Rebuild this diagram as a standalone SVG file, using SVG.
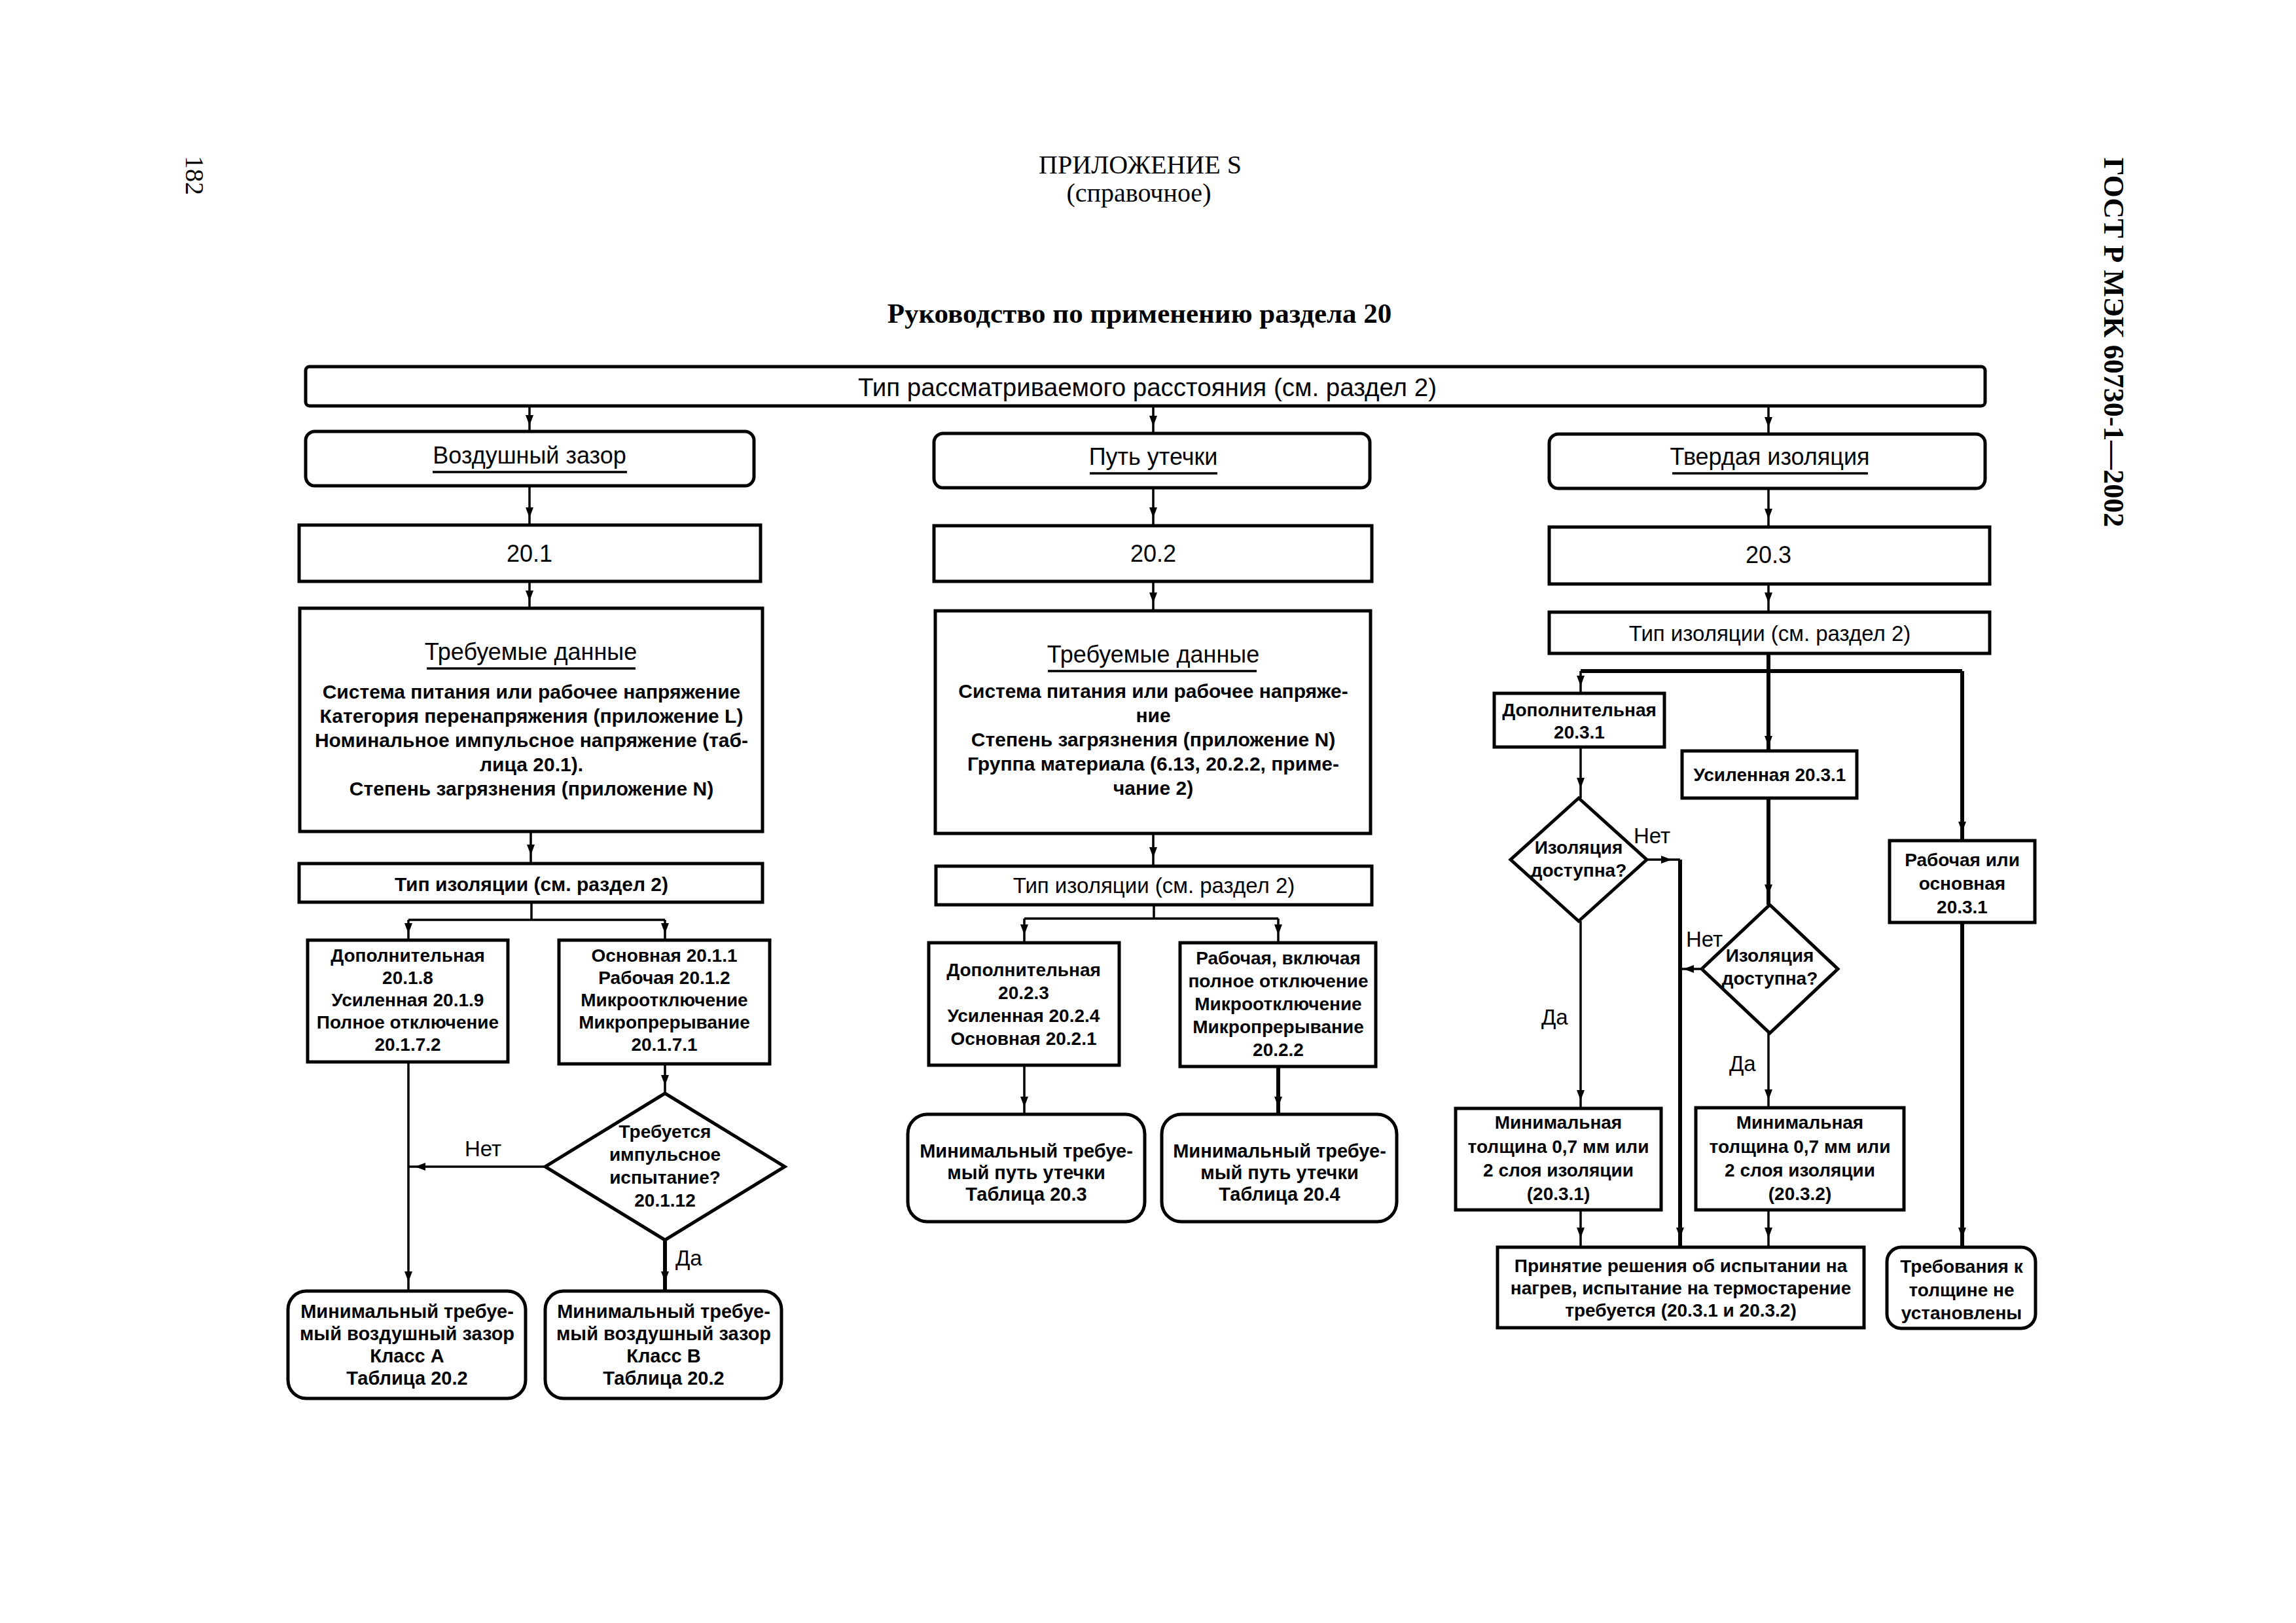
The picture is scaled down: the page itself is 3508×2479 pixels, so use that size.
<svg xmlns="http://www.w3.org/2000/svg" width="3508" height="2479" viewBox="0 0 3508 2479">
<style>
.bg{fill:#fff}
.box{fill:#fff;stroke:#000;stroke-width:5}
.ul{stroke:#000;stroke-width:3.5}
.c{fill:none;stroke:#000;stroke-width:3.5;marker-mid:url(#ah)}
.ck{fill:none;stroke:#000;stroke-width:6;marker-mid:url(#ah)}
.cn{fill:none;stroke:#000;stroke-width:3.5}
.ckn{fill:none;stroke:#000;stroke-width:6}
text{font-family:"Liberation Sans",Arial,sans-serif;fill:#000}
.t{font-size:36px;text-anchor:middle}
.tb{font-size:38.5px;text-anchor:middle}
.b{font-size:30px;font-weight:bold;text-anchor:middle}
.r{font-size:33px;text-anchor:middle}
.s{font-size:28px;font-weight:bold;text-anchor:middle}
.m{font-size:29px;font-weight:bold;text-anchor:middle}
.lb{font-size:33px}
.hd{font-family:"Liberation Serif","Times New Roman",serif;font-size:40px;text-anchor:middle}
.ttl{font-family:"Liberation Serif","Times New Roman",serif;font-size:43px;font-weight:bold;text-anchor:middle}
</style>
<defs>
<marker id="ah" markerUnits="userSpaceOnUse" markerWidth="16" markerHeight="12" viewBox="0 0 16 12" refX="8" refY="6" orient="auto">
<path d="M0,0 L16,6 L0,12 z" fill="#000"/>
</marker>
</defs>
<rect class="bg" x="0" y="0" width="3508" height="2479"/>

<g id="header">
<text class="hd" transform="translate(284,268) rotate(90)">182</text>
<text class="hd" x="1742" y="265">ПРИЛОЖЕНИЕ S</text>
<text class="hd" x="1740" y="308">(справочное)</text>
<text class="ttl" x="1741" y="493">Руководство по применению раздела 20</text>
<text class="ttl" transform="translate(3215,523) rotate(90)" style="font-size:44px">ГОСТ Р МЭК 60730-1—2002</text>
</g>

<g id="connectors">
<path class="c" d="M809,620 L809,642 L809,659"/>
<path class="c" d="M1762,620 L1762,643 L1762,662"/>
<path class="c" d="M2702,622 L2702,645 L2702,663"/>
<path class="c" d="M809,742 L809,783 L809,802"/>
<path class="c" d="M809,888 L809,910 L809,929"/>
<path class="c" d="M811,1270 L811,1298 L811,1319"/>
<path class="cn" d="M812,1378 L812,1405 M624,1405 L1016,1405"/>
<path class="c" d="M624,1405 L624,1418 L624,1436"/>
<path class="c" d="M1016,1405 L1016,1418 L1016,1436"/>
<path class="c" d="M1016,1625 L1016,1650 L1016,1670"/>
<path class="c" d="M833,1782 L642,1782 L624,1782"/>
<path class="c" d="M624,1622 L624,1950 L624,1972"/>
<path class="ck" d="M1016,1894 L1016,1950 L1016,1972"/>
<path class="c" d="M1762,745 L1762,783 L1762,803"/>
<path class="c" d="M1762,888 L1762,913 L1762,933"/>
<path class="c" d="M1762,1273 L1762,1302 L1762,1323"/>
<path class="cn" d="M1763,1382 L1763,1403 M1565,1403 L1953,1403"/>
<path class="c" d="M1565,1403 L1565,1420 L1565,1440"/>
<path class="c" d="M1953,1403 L1953,1420 L1953,1440"/>
<path class="c" d="M1565,1627 L1565,1683 L1565,1702"/>
<path class="ck" d="M1953,1629 L1953,1683 L1953,1702"/>
<path class="c" d="M2702,746 L2702,785 L2702,805"/>
<path class="c" d="M2702,892 L2702,913 L2702,935"/>
<path class="ck" d="M2702,998 L2702,1132 L2702,1147"/>
<path class="ckn" d="M2415,1025 L2998,1025"/>
<path class="c" d="M2415,1025 L2415,1040 L2415,1059"/>
<path class="ck" d="M2998,1025 L2998,1263 L2998,1284"/>
<path class="c" d="M2415,1141 L2415,1196 L2415,1219"/>
<path class="ck" d="M2702,1219 L2702,1359 L2702,1382"/>
<path class="c" d="M2516,1313 L2546,1313 L2567,1313"/>
<path class="ck" d="M2567,1313 L2567,1883 L2567,1905"/>
<path class="c" d="M2600,1480 L2580,1480 L2567,1480"/>
<path class="c" d="M2415,1407 L2415,1673 L2415,1693"/>
<path class="c" d="M2702,1578 L2702,1672 L2702,1692"/>
<path class="c" d="M2415,1848 L2415,1883 L2415,1905"/>
<path class="c" d="M2702,1848 L2702,1883 L2702,1905"/>
<path class="ck" d="M2998,1409 L2998,1883 L2998,1905"/>
</g>

<g id="n-top">
<rect class="box" x="467" y="560" width="2566" height="60" rx="6"/>
<text class="tb" x="1753" y="605">Тип рассматриваемого расстояния (см. раздел 2)</text>
</g>

<g id="n-air">
<rect class="box" x="467" y="659" width="685" height="83" rx="14"/>
<text class="t" x="809" y="708">Воздушный зазор</text>
<line class="ul" x1="661" y1="721" x2="958" y2="721"/>
</g>
<g id="n-creep">
<rect class="box" x="1427" y="662" width="666" height="83" rx="14"/>
<text class="t" x="1762" y="710">Путь утечки</text>
<line class="ul" x1="1665" y1="723" x2="1860" y2="723"/>
</g>
<g id="n-solid">
<rect class="box" x="2367" y="663" width="666" height="83" rx="14"/>
<text class="t" x="2704" y="710">Твердая изоляция</text>
<line class="ul" x1="2555" y1="723" x2="2854" y2="723"/>
</g>

<g id="n-201">
<rect class="box" x="457" y="802" width="705" height="86"/>
<text class="t" x="809" y="858">20.1</text>
</g>
<g id="n-202">
<rect class="box" x="1427" y="803" width="669" height="85"/>
<text class="t" x="1762" y="858">20.2</text>
</g>
<g id="n-203">
<rect class="box" x="2367" y="805" width="673" height="87"/>
<text class="t" x="2702" y="860">20.3</text>
</g>

<g id="n-data1">
<rect class="box" x="458" y="929" width="707" height="341"/>
<text class="t" x="811" y="1008">Требуемые данные</text>
<line class="ul" x1="652" y1="1021" x2="971" y2="1021"/>
<text class="b" x="812" y="1067">Система питания или рабочее напряжение</text>
<text class="b" x="812" y="1104">Категория перенапряжения (приложение L)</text>
<text class="b" x="812" y="1141">Номинальное импульсное напряжение (таб-</text>
<text class="b" x="812" y="1178">лица 20.1).</text>
<text class="b" x="812" y="1215">Степень загрязнения (приложение N)</text>
</g>
<g id="n-data2">
<rect class="box" x="1429" y="933" width="665" height="340"/>
<text class="t" x="1762" y="1012">Требуемые данные</text>
<line class="ul" x1="1601" y1="1025" x2="1920" y2="1025"/>
<text class="b" x="1762" y="1066">Система питания или рабочее напряже-</text>
<text class="b" x="1762" y="1103">ние</text>
<text class="b" x="1762" y="1140">Степень загрязнения (приложение N)</text>
<text class="b" x="1762" y="1177">Группа материала (6.13, 20.2.2, приме-</text>
<text class="b" x="1762" y="1214">чание 2)</text>
</g>

<g id="n-type1">
<rect class="box" x="457" y="1319" width="708" height="59"/>
<text class="b" x="812" y="1361">Тип изоляции (см. раздел 2)</text>
</g>
<g id="n-type2">
<rect class="box" x="1430" y="1323" width="666" height="59"/>
<text class="r" x="1763" y="1364">Тип изоляции (см. раздел 2)</text>
</g>
<g id="n-type3">
<rect class="box" x="2367" y="935" width="673" height="63"/>
<text class="r" x="2704" y="979">Тип изоляции (см. раздел 2)</text>
</g>

<g id="n-a-supp">
<rect class="box" x="470" y="1436" width="306" height="186"/>
<text class="s" x="623" y="1469">Дополнительная</text>
<text class="s" x="623" y="1503">20.1.8</text>
<text class="s" x="623" y="1537">Усиленная 20.1.9</text>
<text class="s" x="623" y="1571">Полное отключение</text>
<text class="s" x="623" y="1605">20.1.7.2</text>
</g>
<g id="n-a-basic">
<rect class="box" x="854" y="1436" width="322" height="189"/>
<text class="s" x="1015" y="1469">Основная 20.1.1</text>
<text class="s" x="1015" y="1503">Рабочая 20.1.2</text>
<text class="s" x="1015" y="1537">Микроотключение</text>
<text class="s" x="1015" y="1571">Микропрерывание</text>
<text class="s" x="1015" y="1605">20.1.7.1</text>
</g>
<g id="n-a-q">
<polygon class="box" points="1016,1670 1199,1782 1016,1894 833,1782"/>
<text class="s" x="1016" y="1738">Требуется</text>
<text class="s" x="1016" y="1773">импульсное</text>
<text class="s" x="1016" y="1808">испытание?</text>
<text class="s" x="1016" y="1843">20.1.12</text>
</g>
<text class="lb" x="710" y="1766">Нет</text>
<text class="lb" x="1032" y="1933">Да</text>
<g id="n-a-classA">
<rect class="box" x="440" y="1972" width="363" height="164" rx="28"/>
<text class="m" x="622" y="2013">Минимальный требуе-</text>
<text class="m" x="622" y="2047">мый воздушный зазор</text>
<text class="m" x="622" y="2081">Класс А</text>
<text class="m" x="622" y="2115">Таблица 20.2</text>
</g>
<g id="n-a-classB">
<rect class="box" x="833" y="1972" width="361" height="164" rx="28"/>
<text class="m" x="1014" y="2013">Минимальный требуе-</text>
<text class="m" x="1014" y="2047">мый воздушный зазор</text>
<text class="m" x="1014" y="2081">Класс В</text>
<text class="m" x="1014" y="2115">Таблица 20.2</text>
</g>

<g id="n-c-supp">
<rect class="box" x="1419" y="1440" width="291" height="187"/>
<text class="s" x="1564" y="1491">Дополнительная</text>
<text class="s" x="1564" y="1526">20.2.3</text>
<text class="s" x="1564" y="1561">Усиленная 20.2.4</text>
<text class="s" x="1564" y="1596">Основная 20.2.1</text>
</g>
<g id="n-c-func">
<rect class="box" x="1803" y="1440" width="299" height="189"/>
<text class="s" x="1953" y="1473">Рабочая, включая</text>
<text class="s" x="1953" y="1508">полное отключение</text>
<text class="s" x="1953" y="1543">Микроотключение</text>
<text class="s" x="1953" y="1578">Микропрерывание</text>
<text class="s" x="1953" y="1613">20.2.2</text>
</g>
<g id="n-c-t203">
<rect class="box" x="1387" y="1702" width="362" height="164" rx="30"/>
<text class="m" x="1568" y="1768">Минимальный требуе-</text>
<text class="m" x="1568" y="1801">мый путь утечки</text>
<text class="m" x="1568" y="1834">Таблица 20.3</text>
</g>
<g id="n-c-t204">
<rect class="box" x="1775" y="1702" width="359" height="164" rx="30"/>
<text class="m" x="1955" y="1768">Минимальный требуе-</text>
<text class="m" x="1955" y="1801">мый путь утечки</text>
<text class="m" x="1955" y="1834">Таблица 20.4</text>
</g>

<g id="n-s-supp">
<rect class="box" x="2283" y="1059" width="260" height="82"/>
<text class="s" x="2413" y="1094">Дополнительная</text>
<text class="s" x="2413" y="1128">20.3.1</text>
</g>
<g id="n-s-reinf">
<rect class="box" x="2570" y="1147" width="267" height="72"/>
<text class="s" x="2704" y="1193">Усиленная 20.3.1</text>
</g>
<g id="n-s-basic">
<rect class="box" x="2887" y="1284" width="222" height="125"/>
<text class="s" x="2998" y="1323">Рабочая или</text>
<text class="s" x="2998" y="1359">основная</text>
<text class="s" x="2998" y="1395">20.3.1</text>
</g>
<g id="n-s-q1">
<polygon class="box" points="2412,1219 2516,1313 2412,1407 2308,1313"/>
<text class="s" x="2412" y="1304">Изоляция</text>
<text class="s" x="2412" y="1339">доступна?</text>
</g>
<g id="n-s-q2">
<polygon class="box" points="2704,1382 2808,1480 2704,1578 2600,1480"/>
<text class="s" x="2704" y="1469">Изоляция</text>
<text class="s" x="2704" y="1504">доступна?</text>
</g>
<text class="lb" x="2496" y="1288">Нет</text>
<text class="lb" x="2576" y="1446">Нет</text>
<text class="lb" x="2355" y="1565">Да</text>
<text class="lb" x="2642" y="1636">Да</text>
<g id="n-s-min1">
<rect class="box" x="2224" y="1693" width="314" height="155"/>
<text class="s" x="2381" y="1724">Минимальная</text>
<text class="s" x="2381" y="1761">толщина 0,7 мм или</text>
<text class="s" x="2381" y="1797">2 слоя изоляции</text>
<text class="s" x="2381" y="1833">(20.3.1)</text>
</g>
<g id="n-s-min2">
<rect class="box" x="2591" y="1692" width="318" height="156"/>
<text class="s" x="2750" y="1724">Минимальная</text>
<text class="s" x="2750" y="1761">толщина 0,7 мм или</text>
<text class="s" x="2750" y="1797">2 слоя изоляции</text>
<text class="s" x="2750" y="1833">(20.3.2)</text>
</g>
<g id="n-s-decision">
<rect class="box" x="2288" y="1905" width="560" height="123"/>
<text class="s" x="2568" y="1943">Принятие решения об испытании на</text>
<text class="s" x="2568" y="1977">нагрев, испытание на термостарение</text>
<text class="s" x="2568" y="2011">требуется (20.3.1 и 20.3.2)</text>
</g>
<g id="n-s-none">
<rect class="box" x="2883" y="1905" width="227" height="124" rx="22"/>
<text class="s" x="2997" y="1944">Требования к</text>
<text class="s" x="2997" y="1980">толщине не</text>
<text class="s" x="2997" y="2015">установлены</text>
</g>
</svg>
